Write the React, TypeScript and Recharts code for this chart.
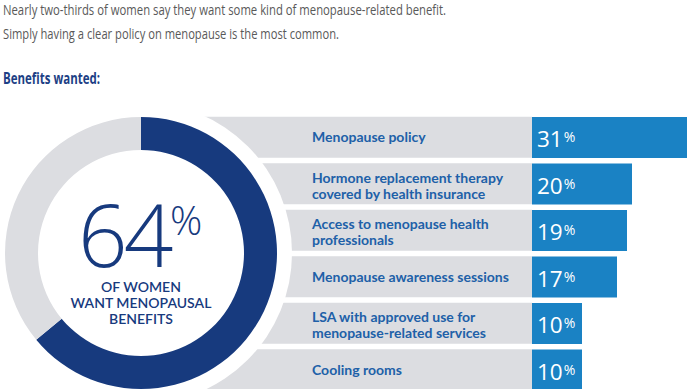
import { BarChart, Bar, XAxis, YAxis, LabelList, PieChart, Pie, Cell } from 'recharts';

// headline copy
const headlineLines = [
  'Nearly two-thirds of women say they want some kind of menopause-related benefit.',
  'Simply having a clear policy on menopause is the most common.',
];
const sectionTitle = 'Benefits wanted:';

// donut: share of women wanting a benefit
const donutNames = ['Want a benefit', 'Other'];
const donutValues = [64, 36];
const donutHeadline = '64';
const donutCaption = ['OF WOMEN', 'WANT MENOPAUSAL', 'BENEFITS'];

// bars: benefits wanted (%)
const benefits = [
  'Menopause policy',
  'Hormone replacement therapy\ncovered by health insurance',
  'Access to menopause health\nprofessionals',
  'Menopause awareness sessions',
  'LSA with approved use for\nmenopause-related services',
  'Cooling rooms',
];
const shares = [31, 20, 19, 17, 10, 10];

const NAVY = '#173a7e';
const BAR_BLUE = '#1a82c4';
const LABEL_BLUE = '#2060a8';
const GRAY = '#dcdde1';
const PANEL_W = 391;
const BAR_H = 41;

const barData = benefits.map((name, i) => ({ name, value: shares[i] }));
const donutData = donutNames.map((name, i) => ({ name, value: donutValues[i] }));

const BenefitTick = ({ x, y, payload }: any) => {
  const lines = String(payload.value).split('\n');
  const tx = x - 220;
  const first = lines.length > 1 ? y - 1 : y + 5;
  return (
    <g>
      <rect x={x - PANEL_W} y={y - BAR_H / 2} width={PANEL_W} height={BAR_H} fill={GRAY} />
      <text x={tx} y={first} fill={LABEL_BLUE} fontFamily="Lato" fontWeight={700} fontSize={14}>
        {lines.map((l, i) => (
          <tspan key={i} x={tx} dy={i ? 16 : 0}>
            {l}
          </tspan>
        ))}
      </text>
    </g>
  );
};

const ValueLabel = ({ x, y, height, value }: any) => (
  <text x={Number(x) + 5} y={Number(y) + Number(height) / 2 + 9.5} fill="#fff" fontFamily="Open Sans">
    <tspan fontSize={22.5}>{value}</tspan>
    <tspan fontSize={14} dy={-5} dx={1}>
      %
    </tspan>
  </text>
);

export default function App() {
  return (
    <div style={{ position: 'absolute', left: 0, top: 0, width: 693, height: 389, overflow: 'hidden', background: '#fff' }}>
      <div style={{ position: 'absolute', left: 141, top: 114 }}>
        <BarChart
          width={552}
          height={279}
          data={barData}
          layout="vertical"
          margin={{ top: 0, right: 6, bottom: 0, left: 0 }}
          barSize={BAR_H}
        >
          <XAxis type="number" domain={[0, 31]} hide />
          <YAxis
            type="category"
            dataKey="name"
            width={PANEL_W}
            axisLine={false}
            tickLine={false}
            tickSize={0}
            tickMargin={0}
            interval={0}
            tick={<BenefitTick />}
          />
          <Bar dataKey="value" fill={BAR_BLUE} isAnimationActive={false}>
            <LabelList dataKey="value" content={<ValueLabel />} />
          </Bar>
        </BarChart>
      </div>

      <div
        style={{
          position: 'absolute',
          left: 141 - 151,
          top: 253 - 151,
          width: 302,
          height: 302,
          borderRadius: '50%',
          background: '#fff',
        }}
      />

      <div style={{ position: 'absolute', left: 141 - 155, top: 253 - 155 }}>
        <PieChart width={310} height={310} margin={{ top: 0, right: 0, bottom: 0, left: 0 }}>
          <Pie
            data={donutData}
            dataKey="value"
            cx={155}
            cy={155}
            innerRadius={103}
            outerRadius={136}
            startAngle={90}
            endAngle={-270}
            stroke="none"
            isAnimationActive={false}
          >
            <Cell fill={NAVY} />
            <Cell fill={GRAY} />
          </Pie>
        </PieChart>
      </div>

      <svg width={693} height={389} style={{ position: 'absolute', left: 0, top: 0 }}>
        <text x={3} y={15} fill="#595959" fontFamily="Open Sans" fontSize={15} textLength={443} lengthAdjust="spacingAndGlyphs">
          {headlineLines[0]}
        </text>
        <text x={3} y={39} fill="#595959" fontFamily="Open Sans" fontSize={15} textLength={336} lengthAdjust="spacingAndGlyphs">
          {headlineLines[1]}
        </text>
        <text x={3} y={84} fill="#1d3f85" fontFamily="Open Sans" fontWeight={700} fontSize={16} textLength={97} lengthAdjust="spacingAndGlyphs">
          {sectionTitle}
        </text>

        <text fill={NAVY}>
          <tspan x={78} y={267} fontFamily="Open Sans" fontWeight={300} fontSize={87} letterSpacing={-4}>
            {donutHeadline}
          </tspan>
          <tspan x={170} y={235} fontFamily="Open Sans" fontWeight={300} fontSize={40}>
            %
          </tspan>
          {donutCaption.map((line, i) => (
            <tspan key={line} x={141} y={292 + i * 16} textAnchor="middle" fontFamily="Lato" fontWeight={600} fontSize={14}>
              {line}
            </tspan>
          ))}
        </text>
      </svg>
    </div>
  );
}
